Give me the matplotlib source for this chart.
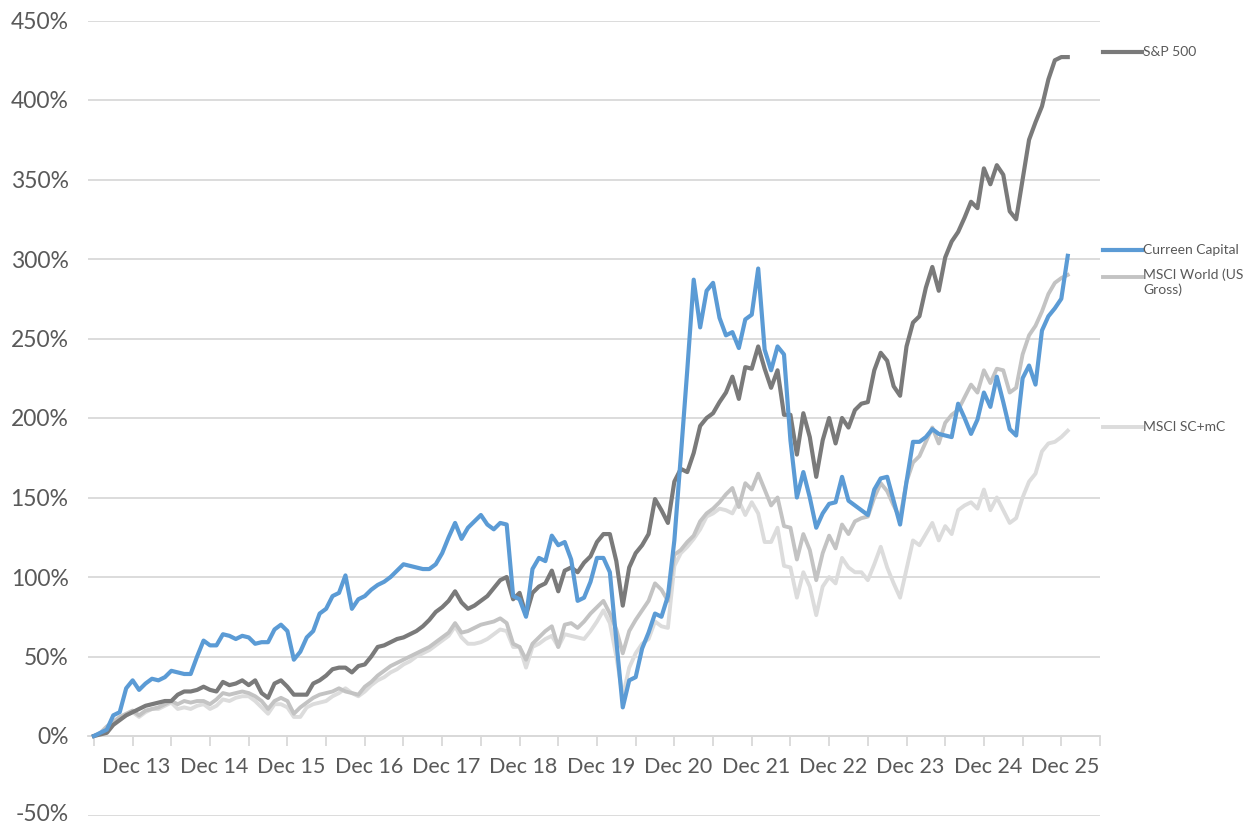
import matplotlib
matplotlib.use("Agg")
import matplotlib.pyplot as plt
from matplotlib.lines import Line2D
from matplotlib.transforms import ScaledTranslation
import numpy as np

plt.rcParams['font.family'] = ['Lato', 'DejaVu Sans']

# Monthly observations, first point = start of track record (index 0)
sp500 = [0, 1, 2, 7, 10, 13, 15, 17, 19, 20, 21, 22, 22, 26, 28, 28, 29, 31, 29, 28,
         34, 32, 33, 35, 32, 35, 27, 24, 33, 35, 31, 26, 26, 26, 33, 35, 38, 42, 43, 43,
         40, 44, 45, 50, 56, 57, 59, 61, 62, 64, 66, 69, 73, 78, 81, 85, 91, 84, 80, 82,
         85, 88, 93, 98, 100, 86, 90, 76, 90, 94, 96, 104, 91, 104, 106, 103, 109, 113, 122, 127,
         127, 110, 82, 106, 115, 120, 127, 149, 142, 134, 160, 168, 166, 178, 195, 200, 203, 210, 216, 226,
         212, 232, 231, 245, 231, 219, 230, 202, 202, 177, 203, 188, 163, 186, 200, 184, 200, 194, 205, 209,
         210, 230, 241, 236, 220, 214, 245, 260, 264, 282, 295, 280, 301, 311, 317, 326, 336, 332, 357, 347,
         359, 353, 330, 325, 350, 375, 386, 396, 413, 425, 427, 427]

curreen = [0, 2, 4, 13, 15, 30, 35, 29, 33, 36, 35, 37, 41, 40, 39, 39, 50, 60, 57, 57,
           64, 63, 61, 63, 62, 58, 59, 59, 67, 70, 66, 48, 53, 62, 66, 77, 80, 88, 90, 101,
           80, 86, 88, 92, 95, 97, 100, 104, 108, 107, 106, 105, 105, 108, 115, 125, 134, 124, 131, 135,
           139, 133, 130, 134, 133, 88, 86, 75, 105, 112, 110, 126, 120, 122, 111, 85, 87, 97, 112, 112,
           103, 60, 18, 35, 37, 55, 65, 77, 75, 88, 123, 176, 230, 287, 257, 280, 285, 263, 252, 254,
           244, 262, 265, 294, 243, 230, 245, 240, 186, 150, 166, 150, 131, 140, 146, 147, 163, 148, 145, 142,
           139, 155, 162, 163, 148, 133, 160, 185, 185, 188, 193, 190, 189, 188, 209, 200, 190, 199, 216, 207,
           226, 210, 193, 189, 225, 233, 221, 255, 264, 269, 275, 302]

msci_world = [0, 2, 6, 9, 12, 14, 16, 13, 16, 17, 18, 20, 22, 20, 22, 21, 22, 22, 20, 23,
              27, 26, 27, 28, 27, 25, 22, 17, 22, 24, 22, 14, 18, 21, 24, 26, 27, 28, 30, 28,
              27, 26, 31, 34, 38, 41, 44, 46, 48, 50, 52, 54, 56, 59, 62, 65, 71, 65, 66, 68,
              70, 71, 72, 74, 71, 58, 56, 48, 58, 62, 66, 69, 56, 70, 71, 68, 72, 77, 81, 85,
              77, 67, 52, 66, 73, 79, 85, 96, 92, 85, 114, 117, 122, 126, 135, 140, 143, 147, 152, 156,
              144, 159, 155, 165, 155, 145, 150, 132, 131, 111, 127, 117, 98, 115, 126, 118, 133, 127, 135, 137,
              138, 150, 159, 154, 145, 137, 160, 172, 176, 185, 194, 184, 197, 202, 205, 213, 221, 216, 230, 222,
              231, 230, 216, 219, 240, 252, 258, 267, 278, 285, 288, 290]

msci_sc = [0, 1, 5, 8, 11, 13, 15, 12, 15, 17, 17, 19, 21, 17, 18, 17, 19, 20, 17, 19,
           23, 22, 24, 25, 25, 22, 18, 14, 20, 20, 18, 12, 12, 18, 20, 21, 22, 25, 27, 30,
           27, 25, 28, 32, 35, 37, 40, 42, 45, 47, 50, 52, 54, 57, 60, 63, 69, 62, 58, 58,
           59, 61, 64, 67, 66, 56, 56, 43, 56, 58, 61, 63, 56, 64, 63, 62, 61, 66, 72, 79,
           71, 50, 25, 43, 52, 58, 61, 72, 69, 68, 107, 115, 119, 124, 130, 138, 140, 143, 142, 140,
           148, 139, 147, 140, 122, 122, 131, 107, 106, 87, 103, 94, 76, 94, 100, 96, 112, 106, 103, 103,
           98, 108, 119, 106, 96, 87, 105, 123, 120, 127, 134, 123, 132, 127, 142, 145, 147, 143, 155, 142,
           150, 142, 134, 137, 150, 160, 165, 179, 184, 185, 188, 192]

year_labels = ["Dec 13", "Dec 14", "Dec 15", "Dec 16", "Dec 17", "Dec 18", "Dec 19",
               "Dec 20", "Dec 21", "Dec 22", "Dec 23", "Dec 24", "Dec 25"]
y_ticks = [-50, 0, 50, 100, 150, 200, 250, 300, 350, 400, 450]

series_names = ["S&P 500", "Curreen Capital", "MSCI World (US\nGross)", "MSCI SC+mC"]

W, H = 1253, 823
fig = plt.figure(figsize=(W / 100, H / 100), dpi=100)
ax_left, ax_right = 88 / W, 1100 / W
ax_bottom, ax_top = 1 - 815.5 / H, 1 - 20.5 / H
ax = fig.add_axes([ax_left, ax_bottom, ax_right - ax_left, ax_top - ax_bottom])

months = np.arange(len(sp500))
ax.set_xlim(-0.92, 153.6)
ax.set_ylim(-50, 450)

grid_c = '#d9d9d9'
for v in y_ticks:
    ax.axhline(v, color=grid_c, lw=1.3, zorder=0)

c_sp, c_cur, c_w, c_sc = '#7a7a7a', '#5b9bd5', '#c3c3c3', '#dcdcdc'
ax.plot(months, msci_sc, color=c_sc, lw=2.8, zorder=2, solid_joinstyle='round')
ax.plot(months, msci_world, color=c_w, lw=2.8, zorder=3, solid_joinstyle='round')
ax.plot(months, sp500, color=c_sp, lw=3.0, zorder=4, solid_joinstyle='round')
ax.plot(months, curreen, color=c_cur, lw=3.0, zorder=5, solid_joinstyle='round')

for s in ['top', 'right', 'left']:
    ax.spines[s].set_visible(False)
ax.spines['bottom'].set_position(('data', 0))
ax.spines['bottom'].set_color(grid_c)
ax.spines['bottom'].set_linewidth(1.3)

txt_c = '#595959'
dec_pos = [6 + 12 * k for k in range(len(year_labels))]
jun_pos = [12 * k for k in range(len(year_labels) + 1)]
ax.set_xticks(dec_pos)
ax.set_xticklabels(year_labels)
ax.set_xticks(jun_pos, minor=True)
ax.tick_params(axis='x', which='both', direction='out', length=7, width=1.3,
               color=grid_c, pad=8, labelsize=15.5, labelcolor=txt_c)
shift = ScaledTranslation(4 / 100, 0, fig.dpi_scale_trans)
for lab in ax.get_xticklabels():
    lab.set_transform(lab.get_transform() + shift)

ax.set_yticks(y_ticks)
ax.set_yticklabels([f"{v}%" for v in y_ticks])
ax.tick_params(axis='y', length=0, pad=14, labelsize=16.5, labelcolor=txt_c)
lift = ScaledTranslation(0, 3 / 100, fig.dpi_scale_trans)
ax.get_yticklabels()[0].set_transform(ax.get_yticklabels()[0].get_transform() + lift)

# legend at right
leg = [(52, c_sp, 3.0, series_names[0]),
       (250, c_cur, 3.0, series_names[1]),
       (277, c_w, 2.8, series_names[2]),
       (427, c_sc, 2.8, series_names[3])]
for yp, col, lw, name in leg:
    fy = 1 - yp / H
    fig.add_artist(Line2D([1103 / W, 1142 / W], [fy, fy], color=col, lw=lw))
    if '\n' in name:
        fig.text(1143 / W, fy + 9 / H, name, fontsize=10, color=txt_c, va='top',
                 ha='left', linespacing=1.3)
    else:
        fig.text(1143 / W, fy, name, fontsize=10, color=txt_c, va='center', ha='left')

fig.savefig("out.png", dpi=100)
